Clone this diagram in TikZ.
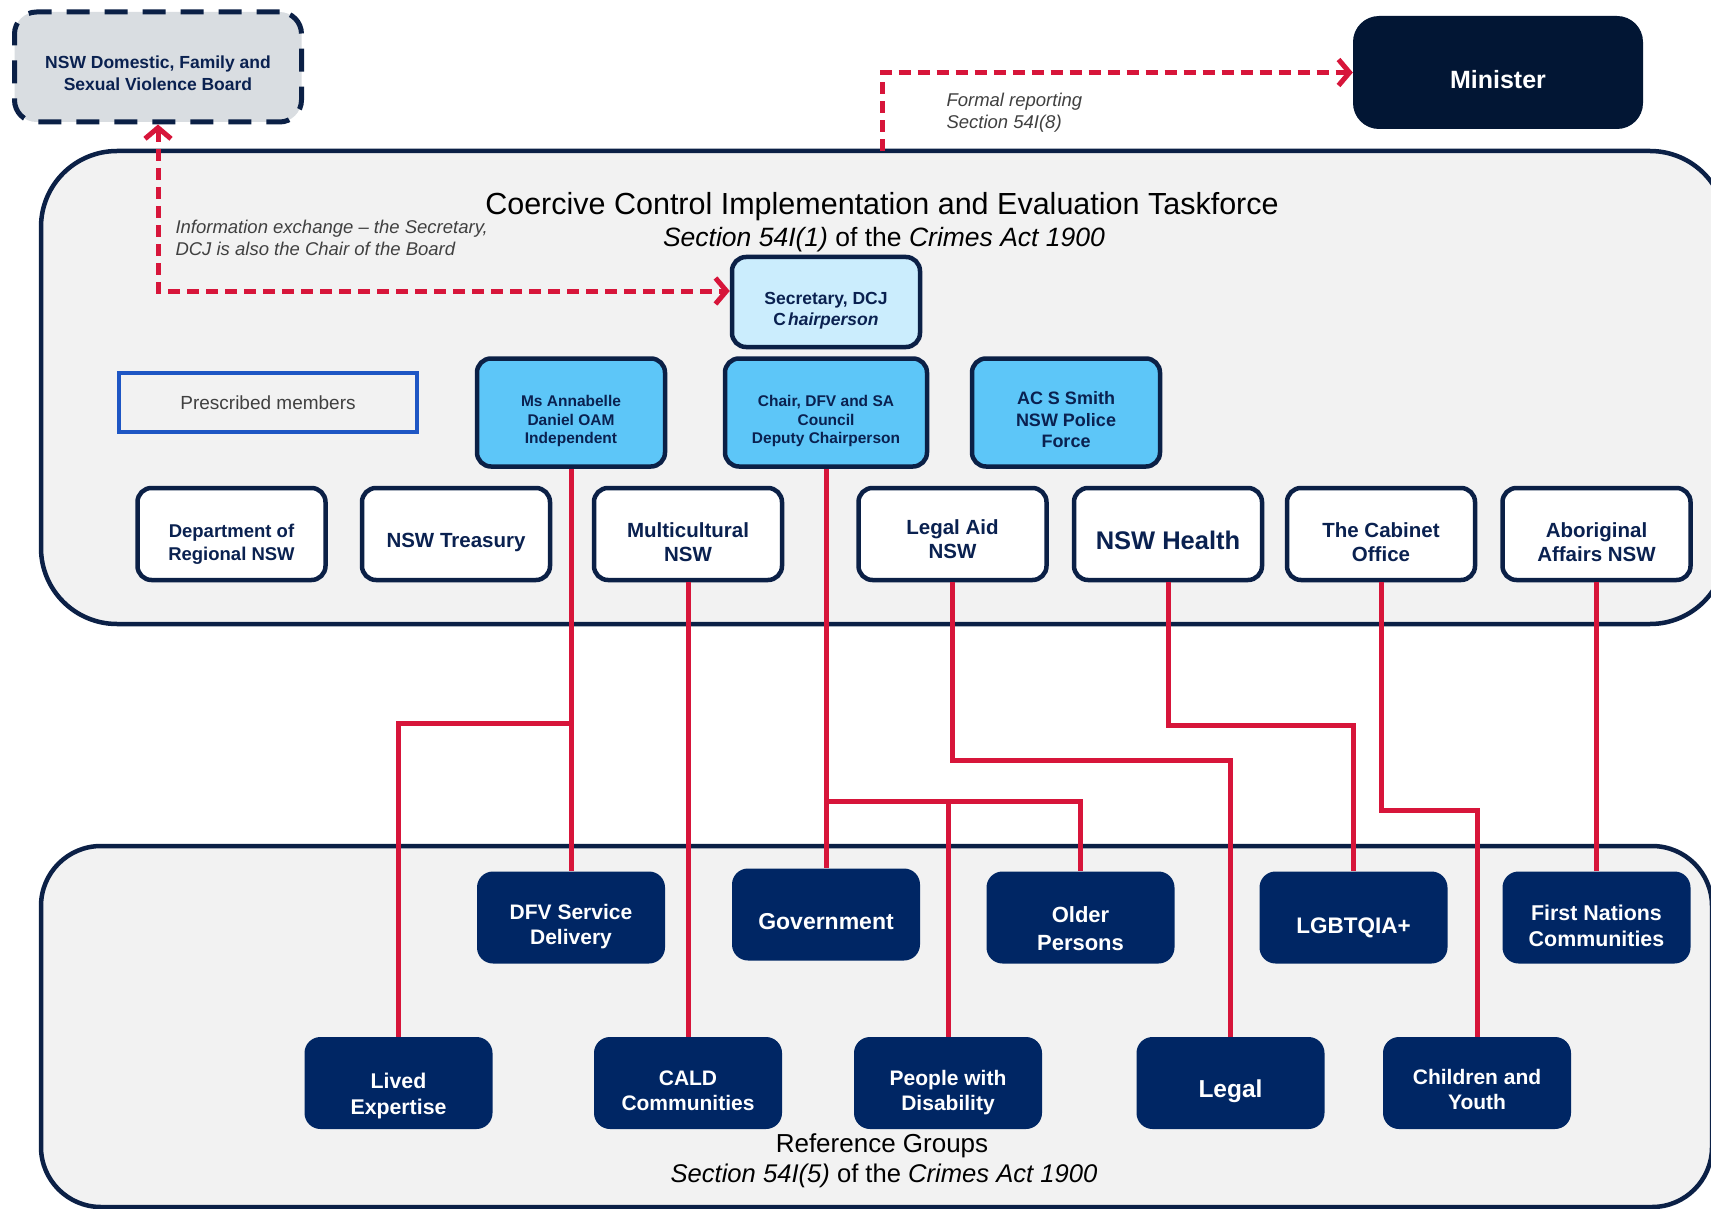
\documentclass[tikz,border=0pt]{standalone}
\usepackage{fontspec}
\setmainfont{Liberation Sans}
\usepackage{tikz}
\usetikzlibrary{arrows.meta}
\usepackage{xcolor}

\definecolor{linenavy}{HTML}{0B2046}
\definecolor{textnavy}{HTML}{0A2150}
\definecolor{refnavy}{HTML}{002664}
\definecolor{ministernavy}{HTML}{021634}
\definecolor{linkred}{HTML}{D7153A}
\definecolor{panelgray}{HTML}{F2F2F2}
\definecolor{boardgray}{HTML}{D9DDE1}
\definecolor{chairblue}{HTML}{CBEDFD}
\definecolor{memberblue}{HTML}{5DC6F8}
\definecolor{prescribedblue}{HTML}{1E56C4}
\definecolor{notegray}{HTML}{404040}

% strut that pushes box text down a little
\newcommand{\tdrop}[1][17pt]{\rule{0pt}{\dimexpr0.73em+#1\relax}}

\tikzset{
  panel/.style={draw=linenavy, line width=4.5pt, fill=panelgray},
  agency/.style={draw=linenavy, line width=4.5pt, fill=white, rounded corners=14pt,
    minimum width=188pt, minimum height=92pt, align=center, text=textnavy,
    font=\fontsize{20.5}{24}\bfseries\selectfont},
  member/.style={agency, fill=memberblue, minimum height=108pt,
    font=\fontsize{15.5}{18.5}\bfseries\selectfont},
  refgroup/.style={fill=refnavy, rounded corners=16pt, minimum width=188pt,
    minimum height=92pt, align=center, text=white,
    font=\fontsize{21}{25}\bfseries\selectfont},
  heading/.style={text=black, align=center},
  note/.style={text=notegray, align=left, font=\fontsize{18.5}{22}\itshape\selectfont},
  barb/.style={arrows={#1}},
  redline/.style={draw=linkred, line width=5pt},
  redarrow/.style={draw=linkred, line width=5pt, dash pattern=on 12pt off 7pt}
}

\begin{document}
\begin{tikzpicture}[x=1pt,y=-1pt]
          % Variables
          \def \toprow  {412.5}
          \def \agrow   {534}
          \def \refA    {917.5}
          \def \refB    {1083}
          \def \tip     {Straight Barb[length=11pt,width=26pt,line width=5pt]}

          % Frame
          \clip (0,0) rectangle (1711,1209);
          \fill[white] (0,0) rectangle (1711,1209);

          % Panels
          \draw[panel, rounded corners=76pt] (41,151) rectangle (1726,624);
          \draw[panel, rounded corners=60pt] (41,846) rectangle (1712,1207);

          % Headings
          \node[heading, font=\fontsize{30.5}{33}\selectfont] (tftitle) at (882,207) {Coercive Control Implementation and Evaluation Taskforce};
          \node[heading, font=\fontsize{26.5}{30}\selectfont] (tfsub) at (884,240) {\textit{Section 54I(1)} of the \textit{Crimes Act 1900}};
          \node[heading, font=\fontsize{26}{30}\selectfont] (reftitle) at (882,1146) {Reference Groups};
          \node[heading, font=\fontsize{25.6}{30}\selectfont] (refsub) at (884,1176) {\textit{Section 54I(5)} of the \textit{Crimes Act 1900}};

          % Board and Minister
          \node[draw=linenavy, line width=5pt, dash pattern=on 23pt off 15pt, fill=boardgray,
                rounded corners=22pt, minimum width=287pt, minimum height=110pt, align=center,
                text=textnavy, font=\fontsize{17.5}{22}\bfseries\selectfont] (board) at (158,67)
                {\tdrop[13pt]NSW Domestic, Family and\\Sexual Violence Board};
          \node[fill=ministernavy, rounded corners=26pt, minimum width=290pt, minimum height=113pt,
                text=white, font=\fontsize{25}{30}\bfseries\selectfont] (minister) at (1498,72.5) {\tdrop[13pt]Minister};

          % Taskforce members
          \node[agency, fill=chairblue, minimum width=188pt, minimum height=90pt,
                font=\fontsize{17.5}{21}\bfseries\selectfont] (secretary) at (826,302)
                {\tdrop Secretary, DCJ\\C\kern2pt\textit{hairperson}};
          \node[draw=prescribedblue, line width=4pt, fill=panelgray, minimum width=298pt, minimum height=59pt,
                text=notegray, font=\fontsize{19}{22}\selectfont] (prescribed) at (268,402.5) {Prescribed members};
          \node[member] (annabelle) at (571,\toprow) {\tdrop Ms Annabelle\\Daniel OAM\\Independent};
          \node[member, minimum width=202pt] (chair) at (826,\toprow) {\tdrop Chair, DFV and SA\\Council\\Deputy Chairperson};
          \node[member, font=\fontsize{18}{21.5}\bfseries\selectfont] (acsmith) at (1066,\toprow) {\tdrop[15pt]AC S Smith\\NSW Police\\Force};

          \node[agency, font=\fontsize{18.5}{23}\bfseries\selectfont] (regional) at (231.5,\agrow) {\tdrop[20pt]Department of\\Regional NSW};
          \node[agency] (treasury) at (456,\agrow) {\tdrop NSW Treasury};
          \node[agency] (multicultural) at (688,\agrow) {\tdrop[16pt]Multicultural\\NSW};
          \node[agency] (legalaid) at (952.5,\agrow) {\tdrop[11pt]Legal Aid\\NSW};
          \node[agency, font=\fontsize{25.5}{30}\bfseries\selectfont] (health) at (1168,\agrow) {\tdrop[13pt]NSW Health};
          \node[agency] (cabinet) at (1381,\agrow) {\tdrop The Cabinet\\Office};
          \node[agency] (aboriginal) at (1596.5,\agrow) {\tdrop[16pt]Aboriginal\\Affairs NSW};

          % Reference groups
          \node[refgroup] (dfv) at (571,\refA) {\tdrop[18pt]DFV Service\\Delivery};
          \node[refgroup, font=\fontsize{23}{27}\bfseries\selectfont] (government) at (826,914.5) {\tdrop[13pt]Government};
          \node[refgroup, font=\fontsize{22}{28}\bfseries\selectfont] (older) at (1080.5,\refA) {\tdrop[23pt]Older\\Persons};
          \node[refgroup, font=\fontsize{22.5}{27}\bfseries\selectfont] (lgbtqia) at (1353.5,\refA) {\tdrop[20pt]LGBTQIA+};
          \node[refgroup, font=\fontsize{21.4}{26}\bfseries\selectfont] (firstnations) at (1596.5,\refA) {\tdrop[16pt]First Nations\\Communities};
          \node[refgroup, font=\fontsize{21.3}{26}\bfseries\selectfont] (lived) at (398.5,\refB) {\tdrop[26pt]Lived\\Expertise};
          \node[refgroup] (cald) at (688,\refB) {\tdrop[15pt]CALD\\Communities};
          \node[refgroup] (people) at (948,\refB) {\tdrop[20pt]People with\\Disability};
          \node[refgroup, font=\fontsize{24.5}{28}\bfseries\selectfont] (legal) at (1230.5,\refB) {\tdrop Legal};
          \node[refgroup] (children) at (1477,\refB) {\tdrop[13pt]Children and\\Youth};

          % Junctions
          \coordinate (jAnnabelle) at (571,723.5);
          \coordinate (jChair) at (826,801);
          \coordinate (jLegal) at (1230.5,760);
          \coordinate (jHealth) at (1353.5,725);
          \coordinate (jCabinet) at (1477,810);
          \coordinate (tftop) at (882,151);

          % Red connectors
          \draw[redline] (annabelle.south) -- (dfv.north);
          \draw[redline] (lived.north) |- (jAnnabelle);
          \draw[redline] (multicultural.south) -- (cald.north);
          \draw[redline] (chair.south) -- (government.north);
          \draw[redline] (jChair) -| (older.north);
          \draw[redline] (people.north) -- (people.north |- jChair);
          \draw[redline] (legalaid.south) |- (jLegal) -- (legal.north);
          \draw[redline] (health.south) |- (jHealth) -- (lgbtqia.north);
          \draw[redline] (cabinet.south) |- (jCabinet) -- (children.north);
          \draw[redline] (aboriginal.south) -- (firstnations.north);

          % Dashed arrows
          \draw[redarrow, barb={\tip-\tip}] (board.south) |- ([yshift=11pt]secretary.west);
          \draw[redarrow, barb={-\tip}] (tftop) |- (minister.west);

          % Notes
          \node[note, anchor=west] (infonote) at (172,238) {Information exchange – the Secretary,\\DCJ is also the Chair of the Board};
          \node[note, anchor=west] (formalnote) at (943,113) {Formal reporting\\Section 54I(8)};
\end{tikzpicture}
\end{document}
